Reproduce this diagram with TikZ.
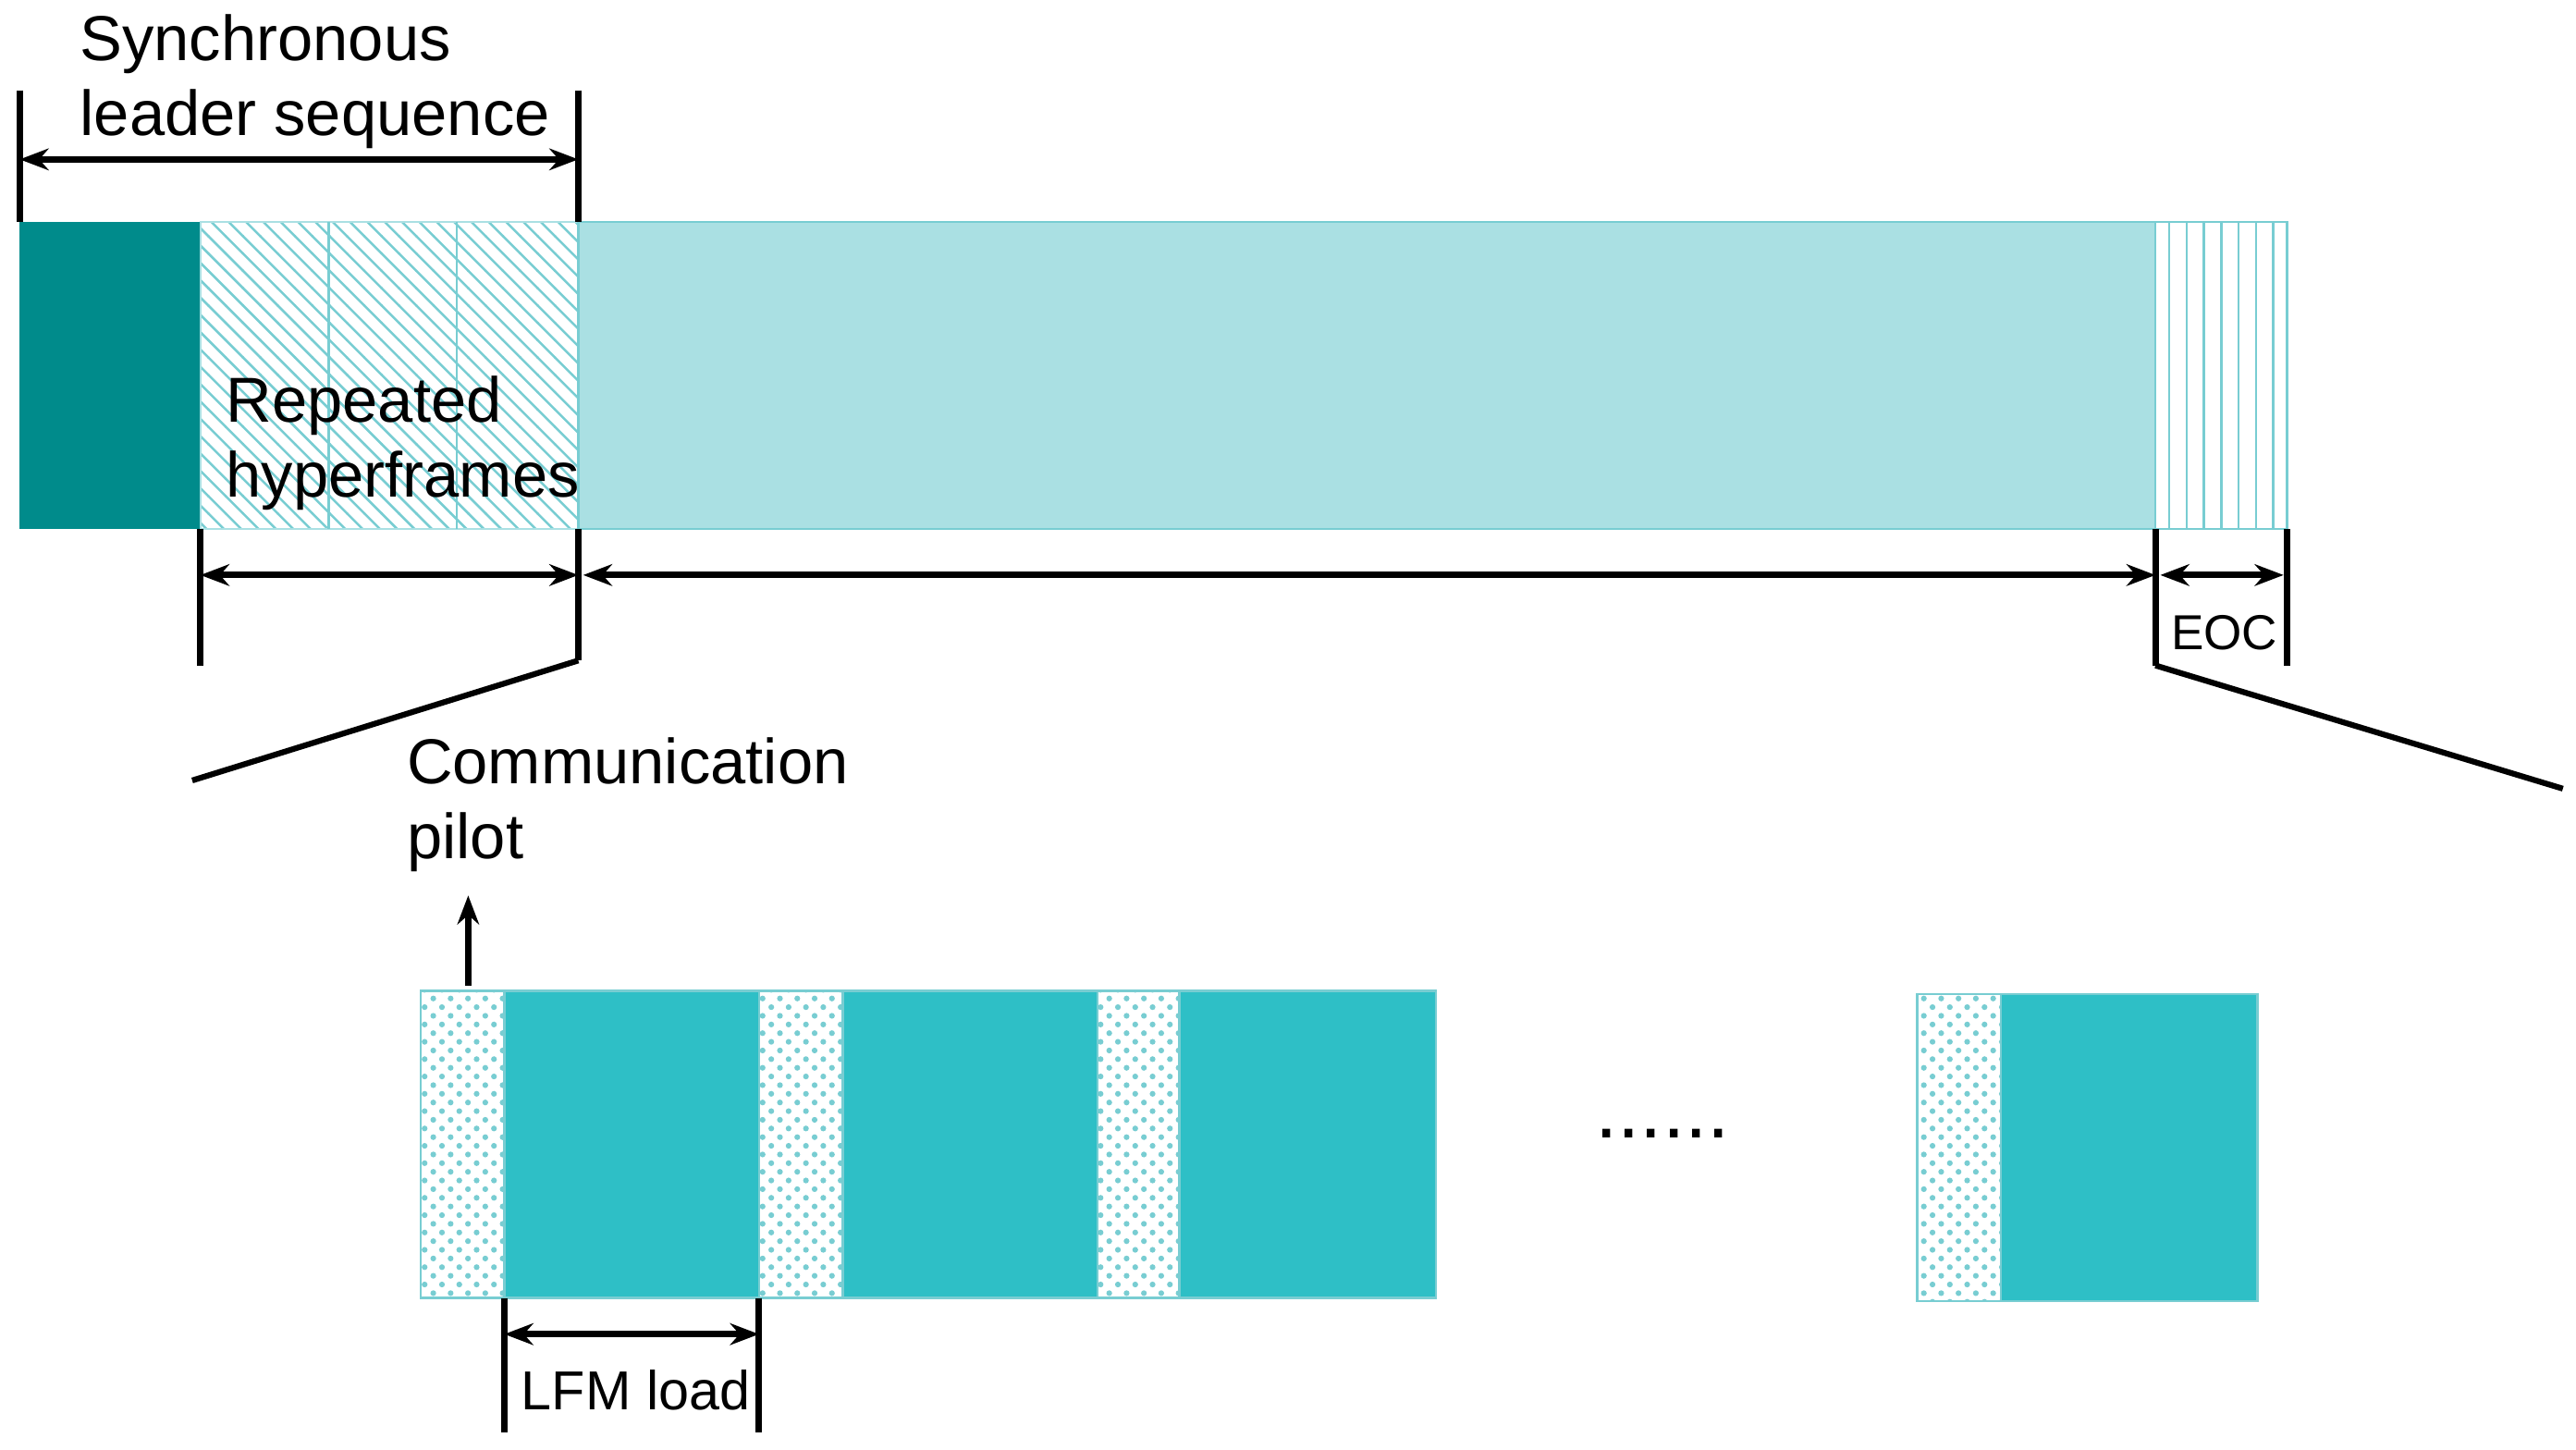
\documentclass[tikz,border=0pt]{standalone}
\usepackage{fontspec}
\setmainfont{Liberation Sans}
\usetikzlibrary{patterns,arrows.meta}
\definecolor{dark}{RGB}{0,139,139}
\definecolor{lite}{RGB}{170,224,227}
\definecolor{mid}{RGB}{46,191,198}
\definecolor{hatch}{RGB}{120,205,210}
\begin{document}
\begin{tikzpicture}[x=0.01cm,y=-0.01cm,
  dim/.style={{Stealth[length=5pt]}-{Stealth[length=5pt]},line width=1.1pt},
  tick/.style={line width=1.1pt},
  big/.style={font=\fontsize{11pt}{13pt}\selectfont,align=left,inner sep=0pt,anchor=north west},
  pilot/.style={draw=hatch,pattern={crosshatch dots},pattern color=hatch},
  box/.style={fill=mid,draw=hatch}]
\useasboundingbox (0,0) rectangle (1568,882);
% top bar
\fill[dark] (12,135) rectangle (122,322);
\draw[lite,pattern=north west lines,pattern color=hatch] (122,135) rectangle (352,322);
\draw[hatch] (200,135) -- (200,322) (278,135) -- (278,322);
\fill[lite] (352,135) rectangle (1312,322);
\draw[hatch] (352,135) rectangle (1312,322);
\draw[hatch,pattern=vertical lines,pattern color=hatch] (1312,135) rectangle (1392,322);
% top dimension
\coordinate (t1) at (12,97); \coordinate (t2) at (352,97);
\draw[tick] (12,55) -- (12,135) (352,55) -- (352,135);
\draw[dim] (t1) -- (t2);
\node[big] (sls) at (48,8) {Synchronous\\leader sequence};
\node[big] (rh) at (137,228) {Repeated\\hyperframes};
% lower dimensions
\draw[tick] (122,322) -- (122,405) (352,322) -- (352,402) (1312,322) -- (1312,405) (1392,322) -- (1392,405);
\coordinate (a1) at (122,350); \coordinate (a2) at (352,350);
\coordinate (a3) at (355,350); \coordinate (a4) at (1312,350);
\coordinate (a5) at (1315,350); \coordinate (a6) at (1390,350);
\draw[dim] (a1) -- (a2);
\draw[dim] (a3) -- (a4);
\draw[dim] (a5) -- (a6);
\node[font=\fontsize{8.5pt}{10pt}\selectfont,inner sep=0pt] (eoc) at (1354,385) {EOC};
% zoom lines
\coordinate (z1) at (352,402); \coordinate (z2) at (117,475);
\coordinate (z3) at (1312,405); \coordinate (z4) at (1560,480);
\draw[line width=1pt] (z1) -- (z2) (z3) -- (z4);
% communication pilot
\node[big] (cp) at (247,448) {Communication\\pilot};
\coordinate (p0) at (285,600); \coordinate (p1) at (285,545);
\draw[line width=1.1pt,-{Stealth[length=5pt]}] (p0) -- (p1);
% bottom row
\draw[pilot] (256,603) rectangle (307,790);
\draw[box] (307,603) rectangle (462,790);
\draw[pilot] (462,603) rectangle (513,790);
\draw[box] (513,603) rectangle (668,790);
\draw[pilot] (668,603) rectangle (718,790);
\draw[box] (718,603) rectangle (874,790);
\draw[pilot] (1167,605) rectangle (1218,792);
\draw[box] (1218,605) rectangle (1374,792);
\node[font=\fontsize{14pt}{14pt}\selectfont,inner sep=0pt] (dots) at (1012,690) {......};
% LFM load
\draw[tick] (307,790) -- (307,872) (462,790) -- (462,872);
\coordinate (l1) at (307,812); \coordinate (l2) at (462,812);
\draw[dim] (l1) -- (l2);
\node[font=\fontsize{9.5pt}{11pt}\selectfont,inner sep=0pt] (lfm) at (387,846) {LFM load};
\end{tikzpicture}
\end{document}
